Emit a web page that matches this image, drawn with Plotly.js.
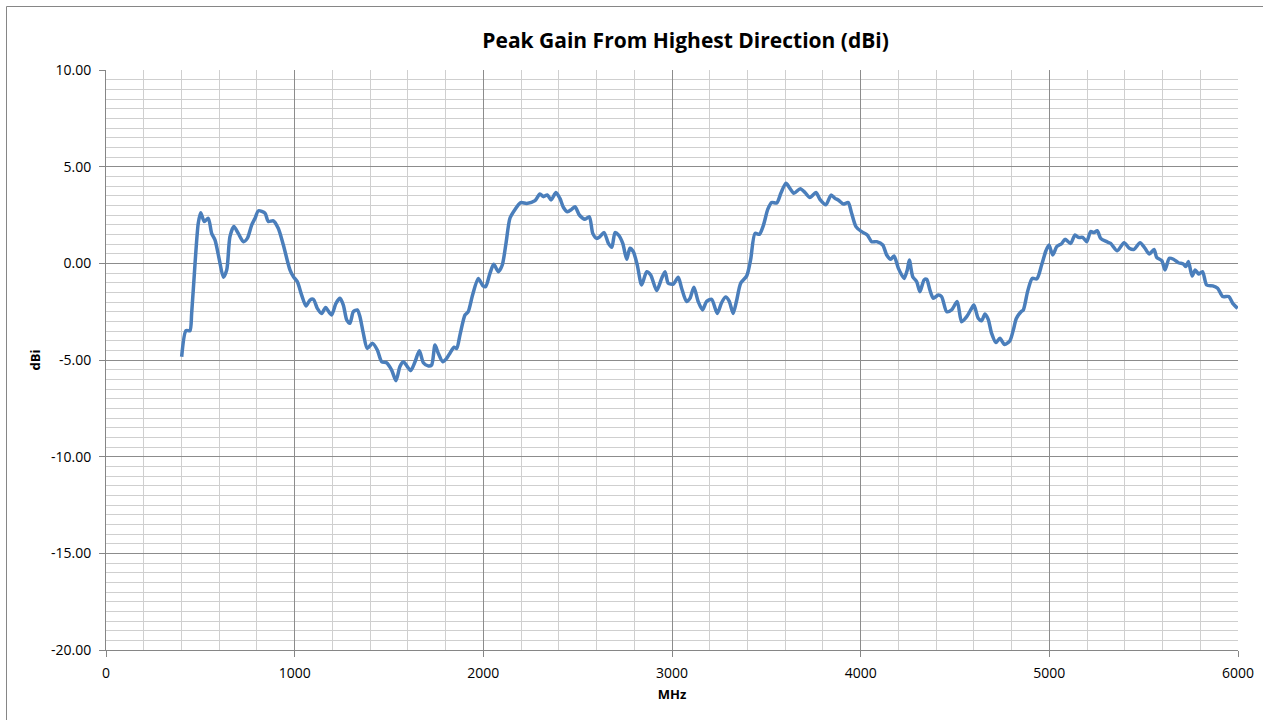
<!DOCTYPE html>
<html>
<head>
<meta charset="utf-8">
<script src="https://cdn.plot.ly/plotly-3.0.1.min.js"></script>
<style>
html,body{margin:0;padding:0;background:#fff;}
#chart{width:1263px;height:720px;}
</style>
</head>
<body>
<div id="chart"></div>
<script>
// Frequency (MHz)
const freqMHz = [401,424,445,454,472,489,502,521,542,560,578,601,622,640,657,678,701,728,749,772,790,808,843,860,887,913,940,975,993,
1014,1037,1060,1081,1099,1120,1143,1164,1184,1196,1219,1240,1258,1276,1293,1311,1332,1346,1364,1385,1413,1438,1461,1487,1514,1537,1558,1576,1597,1615,1638,1661,1682,1709,1726,1744,1761,1785,1806,1823,1845,1859,1876,1903,1920,1943,1973,1997,
2012,2035,2055,2080,2100,2120,2141,2168,2198,2230,2274,2300,2318,2339,2359,2385,2406,2424,2445,2468,2486,2509,2539,2562,2580,2601,2618,2640,2663,2681,2698,2716,2739,2760,2777,2795,2816,2839,2866,2887,2919,2945,2963,2980,
3007,3033,3051,3077,3095,3116,3139,3162,3183,3210,3240,3262,3284,3303,3324,3342,3364,3396,3417,3440,3463,3484,3508,3528,3555,3578,3604,3625,3646,3680,3705,3731,3763,3784,3816,3843,3864,3881,3908,3934,3952,3975,
4005,4035,4058,4085,4117,4138,4159,4177,4200,4230,4247,4258,4276,4297,4314,4336,4350,4367,4385,4411,4429,4456,4482,4512,4535,4562,4583,4600,4623,4641,4659,4676,4694,4717,4738,4763,4791,4809,4825,4850,4862,4885,4909,4934,4959,4982,4998,
5018,5039,5066,5083,5113,5136,5154,5177,5198,5219,5237,5254,5272,5304,5325,5360,5396,5424,5449,5481,5507,5530,5555,5569,5596,5613,5636,5658,5684,5710,5724,5737,5757,5773,5791,5812,5834,5866,5892,5919,5951,5972,5998];

// Peak gain (dBi)
const gainDBi = [-4.83,-3.48,-3.48,-2.59,0.0,2.07,2.62,2.16,2.33,1.55,1.2,0.17,-0.72,-0.34,1.38,1.9,1.55,1.12,1.29,1.98,2.33,2.72,2.59,2.16,2.2,1.81,0.95,-0.34,-0.69,
-0.95,-1.64,-2.21,-1.9,-1.86,-2.33,-2.59,-2.28,-2.55,-2.67,-2.07,-1.81,-2.16,-2.93,-3.1,-2.5,-2.41,-2.76,-3.62,-4.40,-4.14,-4.48,-5.09,-5.14,-5.52,-6.07,-5.34,-5.09,-5.34,-5.55,-5.09,-4.52,-5.14,-5.31,-5.26,-4.22,-4.65,-5.09,-4.91,-4.65,-4.34,-4.40,-3.71,-2.67,-2.50,-1.64,-0.78,-1.15,
-1.21,-0.52,-0.05,-0.43,-0.1,1.03,2.33,2.79,3.14,3.10,3.24,3.59,3.45,3.54,3.28,3.66,3.36,2.90,2.67,2.79,2.93,2.50,2.28,2.41,1.55,1.29,1.38,1.59,1.03,0.83,1.59,1.47,1.03,0.21,0.78,0.60,-0.09,-1.12,-0.43,-0.60,-1.41,-0.78,-0.43,-1.03,
-1.07,-0.72,-1.29,-1.98,-1.81,-1.24,-1.98,-2.41,-1.98,-1.86,-2.59,-2.05,-1.74,-1.95,-2.59,-1.95,-1.03,-0.65,0.2,1.55,1.5,1.95,2.8,3.15,3.12,3.65,4.14,3.88,3.62,3.86,3.66,3.41,3.66,3.31,3.03,3.53,3.36,3.28,3.07,3.14,2.59,1.90,
1.64,1.47,1.12,1.12,0.95,0.43,0.21,0.38,-0.26,-0.78,-0.34,0.17,-0.69,-0.95,-1.47,-0.86,-0.83,-1.38,-1.81,-1.64,-1.72,-2.50,-2.41,-1.98,-3.02,-2.76,-2.41,-2.16,-2.84,-2.97,-2.62,-2.90,-3.62,-4.10,-3.88,-4.2,-4.0,-3.45,-2.85,-2.5,-2.41,-1.45,-0.78,-0.80,-0.09,0.65,0.95,
0.43,0.86,1.03,1.24,1.03,1.47,1.34,1.34,1.12,1.64,1.59,1.69,1.29,1.12,1.03,0.65,1.07,0.78,0.72,1.07,0.78,0.48,0.72,0.31,0.14,-0.34,0.26,0.21,0.03,-0.03,-0.17,0.09,-0.65,-0.34,-0.55,-0.43,-1.12,-1.17,-1.29,-1.72,-1.72,-2.07,-2.33];

// Tick labels
const yTickVals = [10,5,0,-5,-10,-15,-20];
const yTickText = ["10.00","5.00","0.00","-5.00","-10.00","-15.00","-20.00"];
const xTickVals = [0,1000,2000,3000,4000,5000,6000];
const xTickText = ["0","1000","2000","3000","4000","5000","6000"];

const trace = {
  x: freqMHz,
  y: gainDBi,
  type: 'scatter',
  mode: 'lines',
  line: {color: '#4a7ebb', width: 3.5, shape: 'spline', smoothing: 0.7},
  hoverinfo: 'x+y'
};

const tickFont = {family: 'Open Sans, Liberation Sans, sans-serif', size: 14, color: '#000'};

const layout = {
  width: 1263,
  height: 720,
  paper_bgcolor: '#ffffff',
  plot_bgcolor: '#ffffff',
  margin: {l: 106, r: 25, t: 70, b: 70},
  showlegend: false,
  title: {
    text: 'Peak Gain From Highest Direction (dBi)',
    font: {family: 'Open Sans, Liberation Sans, sans-serif', size: 21, color: '#000', weight: 'bold'},
    x: 0.512, xref: 'paper', xanchor: 'center',
    y: 0.943, yref: 'container', yanchor: 'middle'
  },
  xaxis: {
    range: [0, 6000],
    tickmode: 'array', tickvals: xTickVals, ticktext: xTickText,
    ticks: 'outside', ticklen: 6, tickcolor: '#868686', tickwidth: 1,
    ticklabelstandoff: 4,
    showline: true, linecolor: '#868686', linewidth: 1,
    showgrid: true, gridcolor: '#8c8c8c', gridwidth: 1,
    minor: {dtick: 200, tick0: 0, showgrid: true, gridcolor: '#cfcfcf', gridwidth: 1, ticks: ''},
    zeroline: false,
    tickfont: tickFont,
    title: {text: 'MHz', font: {family: 'Open Sans, Liberation Sans, sans-serif', size: 13, color: '#000', weight: 'bold'}, standoff: 9},
    fixedrange: true
  },
  yaxis: {
    range: [-20, 10],
    tickmode: 'array', tickvals: yTickVals, ticktext: yTickText,
    ticks: 'outside', ticklen: 6, tickcolor: '#868686', tickwidth: 1,
    ticklabelstandoff: 5,
    showline: true, linecolor: '#868686', linewidth: 1,
    showgrid: true, gridcolor: '#8c8c8c', gridwidth: 1,
    minor: {dtick: 0.5, tick0: 0, showgrid: true, gridcolor: '#cfcfcf', gridwidth: 1, ticks: ''},
    zeroline: false,
    tickfont: tickFont,
    title: {text: 'dBi', font: {family: 'Open Sans, Liberation Sans, sans-serif', size: 13, color: '#000', weight: 'bold'}, standoff: 7},
    fixedrange: true
  },
  shapes: [{
    type: 'rect', xref: 'paper', yref: 'paper',
    x0: (6.5 - 106) / 1132, x1: (1275 - 106) / 1132,
    y0: (650 - 730) / 580, y1: (650 - 6.5) / 580,
    line: {color: '#868686', width: 1}, fillcolor: 'rgba(0,0,0,0)', layer: 'below'
  }]
};

Plotly.newPlot('chart', [trace], layout, {displayModeBar: false, staticPlot: true});
</script>
</body>
</html>
